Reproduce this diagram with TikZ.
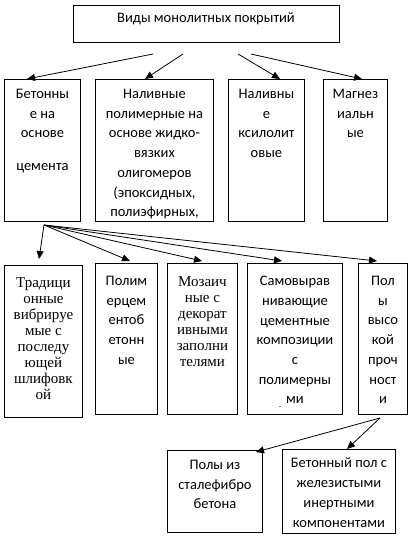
\documentclass[tikz,border=0pt]{standalone}
\usepackage{fontspec}
\setmainfont{Liberation Serif}
\newfontfamily\carlitofont{Carlito}
\usetikzlibrary{arrows.meta}
\tikzset{
  box/.style={draw=black,line width=0.9pt,anchor=north west,inner sep=0pt},
  stxt/.style={anchor=north,align=center,inner sep=0pt,font=\carlitofont\fontsize{14.5}{19.7}\selectfont},
  rtxt/.style={anchor=north,align=center,inner sep=0pt,font=\fontsize{15}{16}\selectfont},
  arr/.style={line width=0.8pt,-{Triangle[length=8pt,width=7pt]}}
}
\begin{document}
\begin{tikzpicture}[x=1pt,y=-1pt]
\useasboundingbox (0,0) rectangle (411,536);
% top
\node[box,minimum width=266pt,minimum height=37pt] (top) at (73,5) {};
\node[stxt] (toptxt) at (206,13) {Виды монолитных покрытий};
% row 1
\node[box,minimum width=76pt,minimum height=142pt] (b1) at (4,79) {};
\node[box,minimum width=118pt,minimum height=142pt] (b2) at (95,79) {};
\node[box,minimum width=76pt,minimum height=142pt] (b3) at (228,79) {};
\node[box,minimum width=64pt,minimum height=142pt] (b4) at (323,79) {};
\node[stxt] (t1) at (b1.north) [yshift=-10pt] {Бетонны\\е на\\основе\\[13pt]цемента};
\node[stxt] (t2) at (b2.north) [yshift=-10pt] {Наливные\\полимерные на\\основе жидко-\\вязких\\олигомеров\\(эпоксидных,\\полиэфирных,};
\node[stxt] (t3) at (b3.north) [yshift=-10pt] {Наливны\\е\\ксилолит\\овые};
\node[stxt] (t4) at (b4.north) [yshift=-10pt] {Магнез\\иальн\\ые};
% row 2
\node[box,minimum width=78pt,minimum height=152pt] (a) at (4,265) {};
\node[box,minimum width=62pt,minimum height=151pt] (bb) at (95,263) {};
\node[box,minimum width=70pt,minimum height=151pt] (c) at (167,263) {};
\node[box,minimum width=95pt,minimum height=151pt] (d) at (247,263) {};
\node[box,minimum width=49pt,minimum height=151pt] (e) at (358,263) {};
\node[rtxt] (ta) at (a.north) [yshift=-12pt] {Традици\\онные\\вибрируе\\мые с\\последу\\ющей\\шлифовк\\ой};
\node[stxt] (tb) at (bb.north) [yshift=-13pt] {Полим\\ерцем\\ентоб\\етонн\\ые};
\node[rtxt] (tc) at (c.north) [yshift=-13pt] {Мозаич\\ные с\\декорат\\ивными\\заполни\\телями};
\node[stxt] (td) at (d.north) [yshift=-13pt] {Самовырав\\нивающие\\цементные\\композиции\\с\\полимерны\\ми};
\node[stxt] (te) at (e.north) [yshift=-13pt] {Пол\\ы\\высо\\кой\\проч\\ност\\и};
\node[inner sep=0pt,font=\carlitofont\fontsize{8}{8}\selectfont] (dash) at (280,408) {-};
% row 3
\node[box,minimum width=95pt,minimum height=82pt] (f) at (167,450) {};
\node[box,minimum width=113pt,minimum height=84pt] (g) at (282,449) {};
\node[stxt] (tf) at (f.north) [yshift=-10pt] {Полы из\\сталефибро\\бетона};
\node[stxt] (tg) at (g.north) [yshift=-9pt] {Бетонный пол с\\железистыми\\инертными\\компонентами};
% connector points
\coordinate (s1) at (153,54);
\coordinate (s2) at (183,54);
\coordinate (s3) at (238,54);
\coordinate (s4) at (251,54);
\coordinate (e1) at (27,79);
\coordinate (e2) at (145,79);
\coordinate (e3) at (280,79);
\coordinate (e4) at (362,79);
\coordinate (fan) at (44,225);
\coordinate (ea) at (39,259);
\coordinate (eb) at (130,261);
\coordinate (ec) at (202,261);
\coordinate (ed) at (282,261);
\coordinate (ee) at (377,261);
\coordinate (src) at (380,418);
\coordinate (ef) at (256,452);
\coordinate (eg) at (347,449);
\draw[arr] (s1) -- (e1);
\draw[arr] (s2) -- (e2);
\draw[arr] (s3) -- (e3);
\draw[arr] (s4) -- (e4);
\draw[arr] (fan) -- (ea);
\draw[arr] (fan) -- (eb);
\draw[arr] (fan) -- (ec);
\draw[arr] (fan) -- (ed);
\draw[arr] (fan) -- (ee);
\draw[arr] (src) -- (ef);
\draw[arr] (src) -- (eg);
\end{tikzpicture}
\end{document}
